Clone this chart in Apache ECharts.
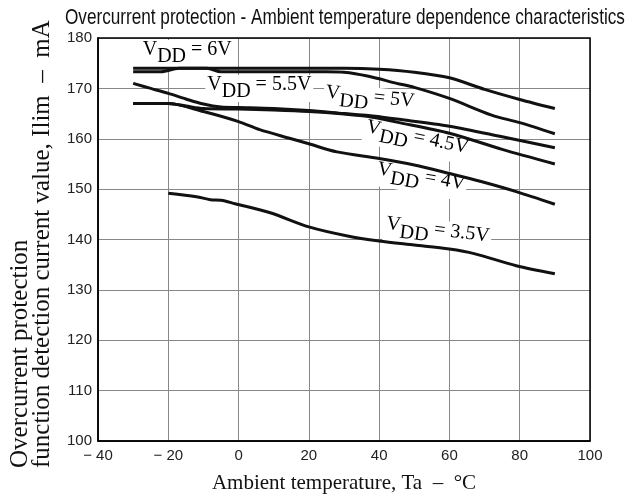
<!DOCTYPE html>
<html><head><meta charset="utf-8">
<script src="https://cdn.jsdelivr.net/npm/echarts@6/dist/echarts.min.js"></script>
<style>html,body{margin:0;padding:0;background:#fff}#c{width:630px;height:499px}</style>
</head><body><div id="c"></div>
<script>
// ---- data ----
const xTicks = [-40, -20, 0, 20, 40, 60, 80, 100];
const xTickLabels = ['\u2212 40', '\u2212 20', '0', '20', '40', '60', '80', '100'];
const yTickLabels = ['100', '110', '120', '130', '140', '150', '160', '170', '180'];
const seriesNames = ['6V', '5.5V', '5V', '4.5V', '4V', '3.5V'];

const vdd60 = [[-30,174],[-20,174],[0,174],[20,174],[30,174],[40,173.8],[50,173.2],[60,172.1],[70,169.8],[80,167.8],[90,166]];
const vdd55 = [[-30,173.3],[-22,173.3],[-17,174],[-9,174],[-5,173.3],[10,173.3],[25,173.3],[30,173.2],[37,172.4],[45,171],[50,170.2],[60,168],[72,164.7],[80,163.2],[90,161]];
const vdd50 = [[-30,171],[-25,170],[-20,169],[-15,167.9],[-10,166.9],[-5,166.3],[0,166.2],[10,166],[20,165.6],[30,165],[37,164.6],[45,163.9],[60,162.5],[75,160.4],[90,158.2]];
const vdd45 = [[-30,167],[-20,167],[-15,166.5],[-10,166],[0,165.9],[10,165.7],[20,165.4],[30,164.9],[37,164.4],[45,163.3],[60,161.1],[75,157.9],[90,155]];
const vdd40 = [[-30,167],[-20,167],[-10,165.4],[0,163.4],[6,161.8],[15,160],[20,159],[28,157.4],[40,156.1],[50,154.8],[60,153.1],[69,151.5],[79,149.5],[90,147]];
const vdd35 = [[-20,149.2],[-12,148.5],[-8,147.9],[-5,147.8],[-1,147.1],[9,145.3],[20,142.5],[31,140.7],[40,139.7],[50,138.9],[60,138.1],[67,137.2],[79,134.8],[90,133.2]];
const seriesData = [vdd60, vdd55, vdd50, vdd45, vdd40, vdd35];

// label anchors in data coordinates [x, y] and rotation (deg)
const labelAnchors = [[-14.6,176.9],[5.9,170.0],[37.3,167.6],[50.7,159.6],[51.8,151.8],[56.6,141.2]];
const labelRotations = [0, 0, -6, -12, -10, -7];

// ---- chart ----
const serif = '"Liberation Serif", "Times New Roman", serif';
const sans = '"Liberation Sans", Arial, sans-serif';
const chart = echarts.init(document.getElementById('c'), null, {renderer: 'canvas'});

const rich = {
  v: {fontFamily: serif, fontSize: 20, color: '#000', padding: [0, 0, 7, 0], verticalAlign: 'bottom'},
  s: {fontFamily: serif, fontSize: 20, color: '#000', padding: [0, 0, 0, 0], verticalAlign: 'bottom'}
};

const series = seriesData.map((d, i) => ({
  name: seriesNames[i],
  type: 'line',
  data: d,
  smooth: 0.3,
  showSymbol: false,
  symbol: 'none',
  lineStyle: {color: '#111', width: 3},
  silent: true,
  z: 4,
  markPoint: {
    silent: true,
    symbol: 'rect',
    symbolSize: 0,
    z: 2,
    itemStyle: {color: 'transparent'},
    data: [{coord: labelAnchors[i], value: seriesNames[i]}],
    label: {
      show: true,
      position: 'inside',
      rotate: labelRotations[i],
      formatter: () => '{v|V}{s|DD}{v| = ' + seriesNames[i] + '}',
      rich: rich,
      backgroundColor: '#fff',
      padding: [0, 2, 0, 2]
    }
  }
}));

chart.setOption({
  animation: false,
  backgroundColor: '#fff',
  grid: {left: 98, right: 40, top: 38, bottom: 53, show: true, borderColor: '#000', borderWidth: 1.5, backgroundColor: 'transparent', z: 4},
  xAxis: {
    type: 'value', min: -40, max: 100, interval: 20,
    name: 'Ambient temperature, Ta  \u2013  \u00B0C',
    nameLocation: 'middle', nameGap: 32,
    nameTextStyle: {fontFamily: serif, fontSize: 21, color: '#111'},
    axisLine: {show: true, onZero: false, lineStyle: {color: '#000', width: 1.5}},
    axisTick: {show: false},
    axisLabel: {fontFamily: sans, fontSize: 15, color: '#222', margin: 7,
      formatter: v => xTickLabels[xTicks.indexOf(v)]},
    splitLine: {show: true, lineStyle: {color: '#888', width: 1}}
  },
  yAxis: {
    type: 'value', min: 100, max: 180, interval: 10,
    axisLine: {show: true, onZero: false, lineStyle: {color: '#000', width: 1.5}},
    axisTick: {show: false},
    axisLabel: {fontFamily: sans, fontSize: 15, color: '#222', margin: 6,
      formatter: v => yTickLabels[Math.round((v - 100) / 10)]},
    splitLine: {show: true, lineStyle: {color: '#888', width: 1}}
  },
  graphic: [
    {type: 'text', x: 65, y: 7, scaleX: 0.78, silent: true,
      style: {text: 'Overcurrent protection - Ambient temperature dependence characteristics',
        font: '22px ' + sans, fill: '#111', textAlign: 'left', textVerticalAlign: 'top'}},
    {type: 'text', x: 9, y: 468, rotation: Math.PI / 2, silent: true,
      style: {text: 'Overcurrent protection\nfunction detection current value, Ilim  \u2013  mA',
        font: '25px ' + serif, lineHeight: 22, fill: '#111', textAlign: 'left', textVerticalAlign: 'top'}}
  ],
  series: series
});
</script></body></html>
